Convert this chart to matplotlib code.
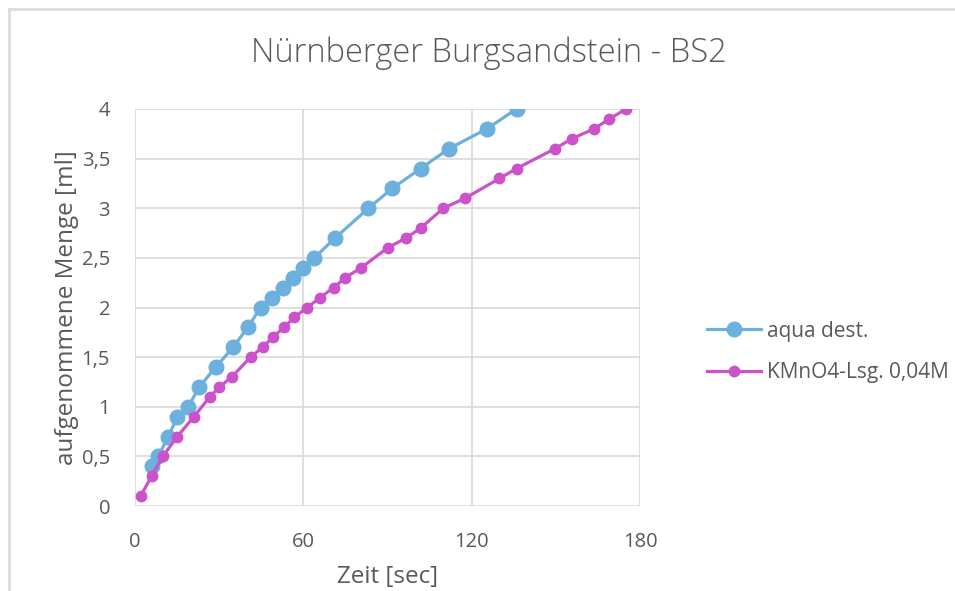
import matplotlib.pyplot as plt
from matplotlib.lines import Line2D
from matplotlib.ticker import FuncFormatter

# aqua dest.
t_aqua = [5.9, 8.3, 11.9, 15.1, 19.0, 22.9, 28.8, 35.0, 40.2, 44.8, 48.7, 52.9,
          56.2, 59.8, 63.9, 71.3, 83.2, 91.7, 101.8, 111.9, 125.4, 136.0]
v_aqua = [0.4, 0.5, 0.7, 0.9, 1.0, 1.2, 1.4, 1.6, 1.8, 2.0, 2.1, 2.2,
          2.3, 2.4, 2.5, 2.7, 3.0, 3.2, 3.4, 3.6, 3.8, 4.0]

# KMnO4-Lsg. 0,04M
t_kmno4 = [2.0, 5.9, 9.9, 15.1, 21.0, 26.7, 30.1, 34.5, 41.2, 45.5, 49.1, 53.1,
           56.7, 61.4, 66.0, 70.8, 74.9, 80.6, 90.0, 96.6, 101.8, 109.9, 117.6,
           129.9, 136.0, 149.7, 155.7, 163.6, 169.1, 175.0]
v_kmno4 = [0.1, 0.3, 0.5, 0.7, 0.9, 1.1, 1.2, 1.3, 1.5, 1.6, 1.7, 1.8,
           1.9, 2.0, 2.1, 2.2, 2.3, 2.4, 2.6, 2.7, 2.8, 3.0, 3.1,
           3.3, 3.4, 3.6, 3.7, 3.8, 3.9, 4.0]

x_ticks = [0, 60, 120, 180]
y_ticks = [0, 0.5, 1, 1.5, 2, 2.5, 3, 3.5, 4]

plt.rcParams['font.family'] = ['Open Sans', 'DejaVu Sans']
txt = '#595959'
grid = '#d9d9d9'

fig = plt.figure(figsize=(9.55, 5.91), dpi=100)
ax = fig.add_axes([135 / 955, 1 - 506 / 591, 505 / 955, 397 / 591])

ax.plot(t_aqua, v_aqua, '-o', color='#6cb0dd', lw=2.3, ms=10.5, label='aqua dest.', zorder=3)
ax.plot(t_kmno4, v_kmno4, '-o', color='#cc52cc', lw=2.3, ms=7.5, label='KMnO4-Lsg. 0,04M', zorder=4)

ax.set_xlim(0, 180)
ax.set_ylim(0, 4)
ax.set_xticks(x_ticks)
ax.set_yticks(y_ticks)
ax.yaxis.set_major_formatter(FuncFormatter(lambda v, p: ('%g' % v).replace('.', ',')))
ax.tick_params(length=0, labelsize=14.5, colors=txt)
ax.tick_params(axis='x', pad=19)
ax.tick_params(axis='y', pad=18)
ax.grid(True, color=grid, lw=1.2)
ax.set_axisbelow(True)
for s in ax.spines.values():
    s.set_visible(False)

ax.set_xlabel('Zeit [sec]', fontsize=17.5, color=txt, labelpad=9)
ax.set_ylabel('aufgenommene Menge [ml]', fontsize=17.5, color=txt, labelpad=2)
fig.text(489 / 955, 1 - 53 / 591, 'Nürnberger Burgsandstein - BS2', ha='center', va='center',
         fontsize=23.5, color=txt, fontweight='light')

ax.legend(loc='center left', bbox_to_anchor=(1.095, 0.388), frameon=False, fontsize=15,
          labelcolor=txt, handlelength=2.6, labelspacing=1.0, handletextpad=0.3)

# chart frame (top and left edges visible)
fig.add_artist(Line2D([9 / 955, 9 / 955], [0, 1 - 9 / 591], color='#dcdcdc', lw=2, transform=fig.transFigure))
fig.add_artist(Line2D([9 / 955, 1], [1 - 9 / 591, 1 - 9 / 591], color='#dcdcdc', lw=2, transform=fig.transFigure))

fig.savefig('out.png', dpi=100)
